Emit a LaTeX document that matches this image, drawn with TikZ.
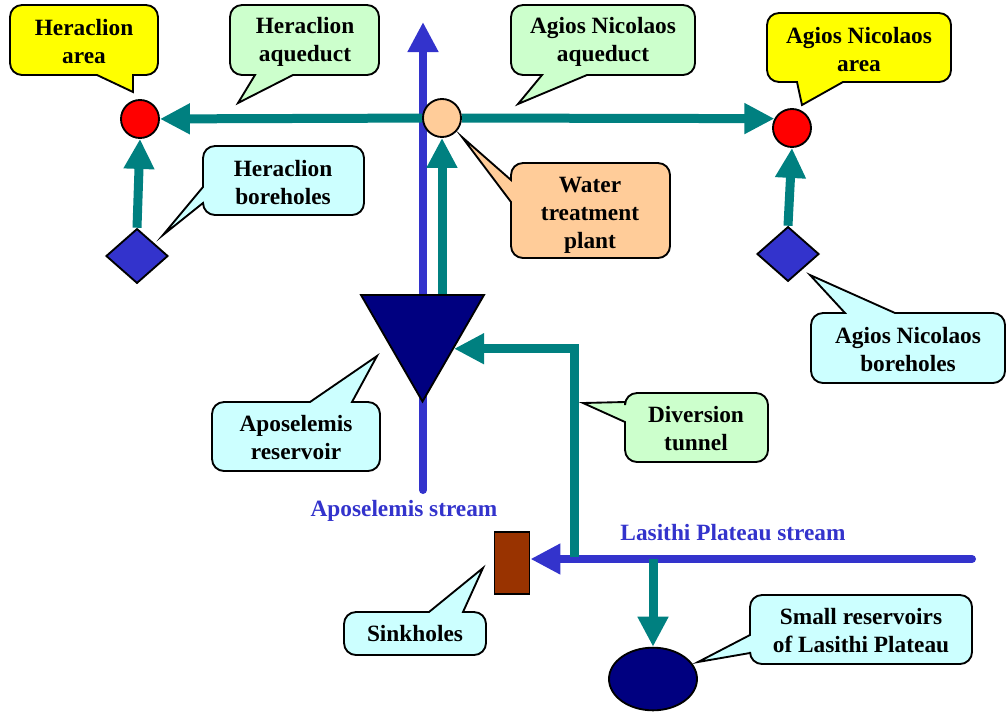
\documentclass[tikz,border=0pt]{standalone}
\usepackage{fontspec}
\setmainfont{Liberation Serif}
\usetikzlibrary{arrows.meta,shapes.geometric}
\pgfdeclarelayer{bg}
\pgfsetlayers{bg,main}
\definecolor{tealc}{HTML}{008080}
\definecolor{streamc}{HTML}{3333CC}
\definecolor{navyc}{HTML}{000080}
\definecolor{peachc}{HTML}{FFCC99}
\definecolor{brownc}{HTML}{993300}
\definecolor{yellowc}{HTML}{FFFF00}
\definecolor{greenc}{HTML}{CCFFCC}
\definecolor{cyanc}{HTML}{CCFFFF}
\tikzset{
  lbl/.style={font=\fontsize{17.5}{21}\selectfont\bfseries, align=center, inner sep=0pt},
  streamlbl/.style={font=\fontsize{17.5}{21}\selectfont\bfseries, text=streamc, inner sep=0pt},
  shapeline/.style={draw=black, line width=1.4pt, inner sep=0pt},
  circ/.style={shapeline, circle, minimum size=28.5pt},
  diam/.style={shapeline, diamond, fill=streamc, minimum width=46.5pt, minimum height=41pt},
  resv/.style={shapeline, regular polygon, regular polygon sides=3, shape border rotate=180, fill=navyc, minimum size=106.5pt},
  sinkbox/.style={shapeline, rectangle, fill=brownc, minimum width=26.25pt, minimum height=46.5pt},
  smallres/.style={shapeline, ellipse, fill=navyc, minimum width=66pt, minimum height=47pt},
  tealarrow/.style={draw=tealc, line width=6.75pt, -{Triangle[length=22.5pt,width=21.75pt]}},
  streamarrow/.style={draw=streamc, line width=6pt, line cap=round, -{Triangle[length=22.5pt,width=21.75pt]}},
  callout/.style={draw=black, line width=1.4pt, line join=miter},
}
% bottom tail: #1 fill, box x1 y1 x2 y2, left base x, tip, right base x
\newcommand\calloutBottom[8]{\filldraw[callout, fill=#1] (#6,#5) [rounded corners=9pt] -- (#2,#5) -- (#2,#3) -- (#4,#3) -- (#4,#5) [sharp corners] -- (#8,#5) -- #7 -- cycle;}
% left tail: upper base y, tip, lower base y
\newcommand\calloutLeft[8]{\filldraw[callout, fill=#1] (#2,#6) [rounded corners=9pt] -- (#2,#3) -- (#4,#3) -- (#4,#5) -- (#2,#5) [sharp corners] -- (#2,#8) -- #7 -- cycle;}
% top tail: left base x, tip, right base x
\newcommand\calloutTop[8]{\filldraw[callout, fill=#1] (#6,#3) [rounded corners=9pt] -- (#2,#3) -- (#2,#5) -- (#4,#5) -- (#4,#3) [sharp corners] -- (#8,#3) -- #7 -- cycle;}
\begin{document}
\begin{tikzpicture}[x=0.75pt, y=-0.75pt]
\useasboundingbox (0,0) rectangle (1007,711);
% main shapes
\node[circ, fill=red] (hera) at (140,119) {};
\node[circ, fill=peachc] (plant) at (442,118) {};
\node[circ, fill=red] (agios) at (792,128) {};
\node[diam] (hdiam) at (137,256) {};
\node[diam] (adiam) at (788,254) {};
\node[resv] (res) at (422.5,330.5) {};
\node[sinkbox] (sink) at (512,563) {};
\node[smallres] (small) at (653,679) {};
\coordinate (apobot) at (423,490);
\coordinate (apotop) at (423,22);
\coordinate (lasE) at (972,559);
\coordinate (tunbot) at (574,557);
% connectors
\begin{pgfonlayer}{bg}
\draw[streamarrow] (apobot) -- (apotop);
\draw[streamarrow] (lasE) -- (sink.east |- lasE);
\draw[tealarrow] (plant) -- (hera);
\draw[tealarrow] (plant) -- (agios.152);
\draw[tealarrow] (hdiam.north) -- (hera.south);
\draw[tealarrow] (adiam.north) -- (agios.south);
\draw[tealarrow] (res.side 2 -| plant) -- (plant.south);
\draw[tealarrow] (tunbot) |- (res.side 1);
\draw[tealarrow] (small |- lasE) -- (small.north);
\end{pgfonlayer}
% callouts
\calloutBottom{yellowc}{10}{5}{158}{75}{97}{(133,92)}{133}
\node[lbl] (t1) at (84,42) {Heraclion\\area};
\calloutBottom{greenc}{230}{5}{379}{75}{255}{(238,103)}{293}
\node[lbl] (t2) at (305,42) {Heraclion\\aqueduct};
\calloutBottom{greenc}{511}{5}{695}{75}{542}{(518,104)}{587}
\node[lbl] (t3) at (603,42) {Agios Nicolaos\\aqueduct};
\calloutBottom{yellowc}{767}{13}{951}{82}{797}{(802,105)}{843}
\node[lbl] (t4) at (859,50) {Agios Nicolaos\\area};
\calloutLeft{peachc}{511}{163}{670}{258}{180}{(462,137)}{202}
\node[lbl] (t5) at (590,215) {Water\\treatment\\plant};
\calloutLeft{cyanc}{203}{146}{364}{215}{187}{(163,235)}{203}
\node[lbl] (t6) at (283,183) {Heraclion\\boreholes};
\calloutTop{cyanc}{811}{313}{1005}{383}{845}{(810,275)}{895}
\node[lbl] (t7) at (908,350) {Agios Nicolaos\\boreholes};
\calloutTop{cyanc}{212}{402}{380}{471}{310}{(377,356)}{352}
\node[lbl] (t8) at (296,438) {Aposelemis\\reservoir};
\calloutLeft{greenc}{625}{393}{768}{462}{402}{(583,403)}{422}
\node[lbl] (t9) at (696,429) {Diversion\\tunnel};
\calloutTop{cyanc}{344}{612}{486}{655}{429}{(483,568)}{463}
\node[lbl] (t10) at (415,634) {Sinkholes};
\calloutLeft{cyanc}{750}{595}{972}{664}{635}{(698,662)}{653}
\node[lbl] (t11) at (861,631) {Small reservoirs\\of Lasithi Plateau};
% stream labels
\node[streamlbl] (s1) at (404,511) {Aposelemis stream};
\node[streamlbl] (s2) at (733,533) {Lasithi Plateau stream};
\end{tikzpicture}
\end{document}
